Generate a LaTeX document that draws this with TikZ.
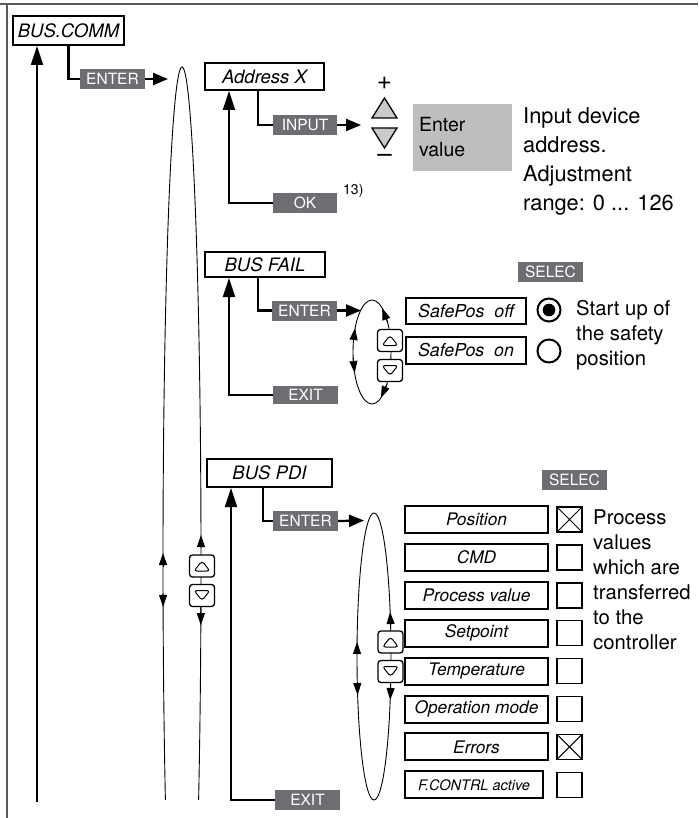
\documentclass[tikz,border=0pt]{standalone}
\usepackage{fontspec}
\setmainfont{TeX Gyre Heros}
\usetikzlibrary{arrows.meta}
\definecolor{keygray}{HTML}{6D6E71}
\definecolor{valgray}{HTML}{BCBEC0}
\definecolor{trigray}{HTML}{C9CACC}
\definecolor{framegray}{HTML}{58595B}
\tikzset{
  menu/.style={draw,line width=2pt,inner sep=0pt,minimum height=27pt,font=\fontsize{18.5}{20}\selectfont\itshape},
  keybox/.style={fill=keygray,text=white,inner sep=0pt,minimum width=65pt,minimum height=20pt,font=\fontsize{15.5}{16}\selectfont},
  item/.style={draw,line width=2pt,inner sep=0pt,minimum width=143pt,minimum height=27pt,font=\fontsize{17.3}{18}\selectfont\itshape},
  chk/.style={draw,line width=1.5pt,minimum size=25pt,inner sep=0pt},
  chkx/.style={chk,path picture={\draw[line width=1pt] (path picture bounding box.north west) -- (path picture bounding box.south east) (path picture bounding box.north east) -- (path picture bounding box.south west);}},
  radio/.style={draw,circle,line width=2pt,minimum size=23pt,inner sep=0pt},
  radioon/.style={radio,path picture={\fill (path picture bounding box.center) circle (6.3);}},
  btn/.style={draw,fill=white,rounded corners=3pt,line width=1.3pt,minimum width=25pt,minimum height=22pt,inner sep=0pt},
  btnup/.style={btn,path picture={\draw[line width=1pt] ([shift={(-8,5)}]path picture bounding box.center) -- ([shift={(0,-5)}]path picture bounding box.center) -- ([shift={(8,5)}]path picture bounding box.center) -- cycle;}},
  btndn/.style={btn,path picture={\draw[line width=1pt] ([shift={(-8,-5)}]path picture bounding box.center) -- ([shift={(0,5)}]path picture bounding box.center) -- ([shift={(8,-5)}]path picture bounding box.center) -- cycle;}},
  note/.style={anchor=north west,align=left,inner sep=0pt,font=\fontsize{20.3}{25}\selectfont},
  conn/.style={line width=2.2pt},
  flow/.style={conn,-{Triangle[length=19pt,width=12pt]}},
  push/.style={conn,-{Triangle[length=15pt,width=12pt]}},
  ring/.style={line width=0.9pt},
  ringtip/.style={ring,-{Triangle[length=12pt,width=8pt]}}
}
\begin{document}
\begin{tikzpicture}[x=1pt,y=-1pt]
\useasboundingbox (0,0) rectangle (698,818);
% frame
\draw[framegray,line width=1.2pt] (0,4) -- (698,4);
\draw[framegray,line width=1.2pt] (7,4) -- (7,818);
% main menu entry
\node[menu,minimum width=111pt,minimum height=29pt] (comm) at (68.5,30.5) {BUS.COMM};
\coordinate (c0) at (37,802);
\draw[flow] (c0) -- (c0 |- comm.south);
\node[keybox] (enter1) at (112.5,79) {ENTER};
\coordinate (e1in) at (168,79);
\draw[conn] (comm.south) |- (enter1.west);
\draw[push] (enter1.east) -- (e1in);
% submenu loop with up/down keys
\coordinate (l1) at (182,560);
\draw[ring] ([shift={(29.13:19 and 493)}]l1) arc[start angle=29.13,end angle=-209.13,x radius=19,y radius=493];
\draw[ringtip] ([shift={(-1.4:19 and 493)}]l1) -- ([shift={(-2.9:19 and 493)}]l1);
\draw[ringtip] ([shift={(5.47:19 and 493)}]l1) -- ([shift={(7.6:19 and 493)}]l1);
\draw[ringtip] ([shift={(179.19:19 and 493)}]l1) -- ([shift={(180.81:19 and 493)}]l1);
\draw[ringtip] ([shift={(176.16:19 and 493)}]l1) -- ([shift={(174.53:19 and 493)}]l1);
\node[btnup] (b1u) at (202,566) {};
\node[btndn] (b1d) at (202,595.5) {};
% address
\node[menu,minimum width=119pt] (addr) at (264.5,76.5) {Address X};
\node[keybox,minimum width=64pt] (input) at (305,125) {INPUT};
\node[keybox,minimum width=64pt] (ok) at (305,203) {OK};
\node[anchor=west,inner sep=0pt,font=\fontsize{14}{14}\selectfont] (fn) at (343,191) {13)};
\draw[conn] ([xshift=-6.5]addr.south) |- (input.west);
\draw[flow] (ok.west) -| ([xshift=25]addr.south west);
\coordinate (tri) at (361,125);
\draw[push] (input.east) -- (tri);
\filldraw[fill=trigray,line width=1.3pt] (372,118) -- (384.5,98) -- (397,118) -- cycle;
\filldraw[fill=trigray,line width=1.3pt] (372,128) -- (384.5,148) -- (397,128) -- cycle;
\node[font=\fontsize{26}{26}\selectfont] (plus) at (384.5,83) {+};
\node[font=\fontsize{26}{26}\selectfont] (minus) at (384.5,158) {–};
\node[fill=valgray,minimum width=99pt,minimum height=67pt,text width=87pt,inner xsep=6pt,align=left,font=\fontsize{19.5}{25}\selectfont] (val) at (462.5,137.5) {Enter\\value};
\node[note,font=\fontsize{21.8}{29}\selectfont] (desc1) at (523,107) {Input device\\address.\\Adjustment\\range: 0 ... 126};
% bus fail
\node[menu,minimum width=120pt,minimum height=25pt] (fail) at (265,264.5) {BUS FAIL};
\node[keybox] (enter2) at (304.5,310.5) {ENTER};
\node[keybox,minimum height=18pt] (exit2) at (305.5,395) {EXIT};
\coordinate (e2in) at (361,310.5);
\draw[conn] ([xshift=-7]fail.south) |- (enter2.west);
\draw[push] (enter2.east) -- (e2in);
\draw[flow] (exit2.west) -| ([xshift=25]fail.south west);
\coordinate (l2) at (372,352);
\draw[ring] (l2) ellipse[x radius=19,y radius=52];
\draw[ringtip] ([shift={(-33.9:19 and 52)}]l2) -- ([shift={(-57.8:19 and 52)}]l2);
\draw[ringtip] ([shift={(38:19 and 52)}]l2) -- ([shift={(62.2:19 and 52)}]l2);
\draw[ringtip] ([shift={(193.3:19 and 52)}]l2) -- ([shift={(207.4:19 and 52)}]l2);
\draw[ringtip] ([shift={(173.4:19 and 52)}]l2) -- ([shift={(156.2:19 and 52)}]l2);
\node[btnup] (b2u) at (390,340.5) {};
\node[btndn] (b2d) at (390,370.5) {};
\node[keybox] (selec2) at (550.5,272) {SELEC};
\node[item,minimum width=120pt,minimum height=26pt,font=\fontsize{17.8}{18}\selectfont\itshape] (spoff) at (466,311) {SafePos\ \ off};
\node[item,minimum width=120pt,font=\fontsize{17.8}{18}\selectfont\itshape] (spon) at (466,350.5) {SafePos\ \ on};
\node[radioon] (r1) at (549,310) {};
\node[radio] (r2) at (549,351) {};
\node[note] (desc2) at (576,300) {Start up of\\the safety\\position};
% bus pdi
\node[menu,minimum width=125pt,minimum height=28pt] (pdi) at (269.5,473) {BUS PDI};
\node[keybox] (enter3) at (305.5,521) {ENTER};
\node[keybox] (exit3) at (307.5,800) {EXIT};
\coordinate (e3in) at (364,520.5);
\draw[conn] ([xshift=-6.5]pdi.south) |- (enter3.west);
\draw[push] (enter3.east) -- (e3in);
\draw[flow] (exit3.west) -| ([xshift=25]pdi.south west);
\coordinate (l3) at (374,656.5);
\draw[ring] (l3) ellipse[x radius=17,y radius=143.5];
\draw[ringtip] ([shift={(-12.68:17 and 143.5)}]l3) -- ([shift={(-18.06:17 and 143.5)}]l3);
\draw[ringtip] ([shift={(12.68:17 and 143.5)}]l3) -- ([shift={(17.64:17 and 143.5)}]l3);
\draw[ringtip] ([shift={(181.4:17 and 143.5)}]l3) -- ([shift={(185.8:17 and 143.5)}]l3);
\draw[ringtip] ([shift={(169.76:17 and 143.5)}]l3) -- ([shift={(164.44:17 and 143.5)}]l3);
\node[btnup] (b3u) at (390.5,642) {};
\node[btndn] (b3d) at (390.5,671.5) {};
\node[keybox] (selec3) at (574.5,480) {SELEC};
% process values
\node[item] (p0) at (476.5,519.5) {Position};
\node[item] (p1) at (476.5,557.4) {CMD};
\node[item] (p2) at (476.5,595.3) {Process value};
\node[item] (p3) at (476.5,633.2) {Setpoint};
\node[item] (p4) at (476.5,671.1) {Temperature};
\node[item] (p5) at (476.5,709) {Operation mode};
\node[item] (p6) at (476.5,746.9) {Errors};
\node[item,minimum width=138pt,font=\fontsize{14.5}{16}\selectfont\itshape] (p7) at (474,784.8) {F.CONTRL active};
\node[chkx] (k0) at (569.5,519.5) {};
\node[chk] (k1) at (569.5,557.4) {};
\node[chk] (k2) at (569.5,595.3) {};
\node[chk] (k3) at (569.5,633.2) {};
\node[chk] (k4) at (569.5,671.1) {};
\node[chk] (k5) at (569.5,709) {};
\node[chkx] (k6) at (569.5,746.9) {};
\node[chk] (k7) at (569.5,784.8) {};
\node[note] (desc3) at (593,509) {Process\\values\\which are\\transferred\\to the\\controller};
\end{tikzpicture}
\end{document}
